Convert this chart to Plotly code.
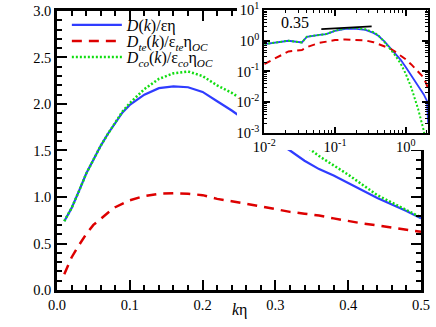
import numpy as np
import plotly.graph_objects as go

# main panel: D(k) curves vs k*eta (linear axes)
k_main = [0.01, 0.02, 0.03, 0.04, 0.05, 0.06, 0.07, 0.08, 0.09, 0.10,
          0.12, 0.14, 0.16, 0.18, 0.20, 0.22, 0.24, 0.26, 0.28, 0.30,
          0.32, 0.34, 0.36, 0.38, 0.40, 0.42, 0.44, 0.46, 0.48, 0.50]
d_main = [0.74, 0.88, 1.06, 1.25, 1.40, 1.55, 1.68, 1.80, 1.91, 1.99,
          2.10, 2.17, 2.19, 2.18, 2.13, 2.03, 1.93, 1.82, 1.71, 1.60,
          1.50, 1.39, 1.30, 1.23, 1.15, 1.07, 0.99, 0.92, 0.85, 0.77]
dte_main = [0.17, 0.35, 0.48, 0.60, 0.70, 0.77, 0.83, 0.89, 0.93, 0.965,
            1.01, 1.035, 1.04, 1.035, 1.02, 0.98, 0.955, 0.93, 0.90, 0.87,
            0.84, 0.82, 0.80, 0.77, 0.74, 0.715, 0.695, 0.67, 0.65, 0.625]
dco_main = [0.74, 0.88, 1.06, 1.25, 1.40, 1.55, 1.68, 1.80, 1.92, 2.01,
            2.16, 2.27, 2.33, 2.35, 2.30, 2.20, 2.12, 2.02, 1.91, 1.79,
            1.67, 1.55, 1.44, 1.34, 1.24, 1.13, 1.02, 0.94, 0.86, 0.78]

# inset: same quantities on log-log axes, out to k*eta ~ 2
k_in = [0.01, 0.022, 0.034, 0.04, 0.06, 0.075, 0.1, 0.14, 0.2, 0.27, 0.35,
        0.41, 0.5, 0.6, 0.7, 0.85, 1.0, 1.2, 1.5, 1.8, 2.0, 2.08]
d_in = [0.78, 1.0, 0.88, 1.35, 1.55, 1.65, 2.1, 2.45, 2.45, 2.25, 1.8,
        1.45, 0.95, 0.6, 0.40, 0.24, 0.14, 0.075, 0.036, 0.018, 0.011, 0.002]
dte_in = [0.175, 0.45, 0.5, 0.62, 0.85, 0.95, 1.05, 1.1, 1.08, 1.02, 0.9,
          0.78, 0.68, 0.56, 0.45, 0.33, 0.25, 0.17, 0.1, 0.063, 0.035, 0.025]
dco_in = [0.78, 1.0, 0.88, 1.35, 1.55, 1.65, 2.12, 2.55, 2.6, 2.35, 1.9,
          1.5, 0.92, 0.56, 0.35, 0.18, 0.085, 0.03, 0.006, 0.0012, 0.0004, 0.0002]

# power-law guide line and shaded band in the inset
k_slope = [0.064, 0.33]
y_slope = [2.4, 2.95]
band = [0.1, 0.2]
slope_label = "0.35"

names = ["<i>D</i>(<i>k</i>)/εη",
         "<i>D<sub>te</sub></i>(<i>k</i>)/ε<sub><i>te</i></sub>η<sub><i>OC</i></sub>",
         "<i>D<sub>co</sub></i>(<i>k</i>)/ε<sub><i>co</i></sub>η<sub><i>OC</i></sub>"]

inset_xvals = [0.01, 0.1, 1]
inset_xtext = ["10<sup>-2</sup>", "10<sup>-1</sup>", "10<sup>0</sup>"]
inset_yvals = [1e-3, 1e-2, 1e-1, 1, 10]
inset_ytext = ["10<sup>-3</sup>", "10<sup>-2</sup>", "10<sup>-1</sup>",
               "10<sup>0</sup>", "10<sup>1</sup>"]

blue = "#2f3cff"
red = "#dd0000"
green = "#11dd11"
font = "Liberation Serif, serif"

fig = go.Figure()
fig.add_trace(go.Scatter(x=k_main, y=d_main, mode="lines", name=names[0], legend="legend",
                         line=dict(color=blue, width=2.2)))
fig.add_trace(go.Scatter(x=k_main, y=dte_main, mode="lines", name=names[1], legend="legend2",
                         line=dict(color=red, width=2.5, dash="10px,7px")))
fig.add_trace(go.Scatter(x=k_main, y=dco_main, mode="lines", name=names[2], legend="legend3",
                         line=dict(color=green, width=2.5, dash="2px,2px")))

# empty subplot whose white background masks the main panel behind the inset
fig.add_trace(go.Scatter(x=[], y=[], xaxis="x2", yaxis="y2", showlegend=False))

fig.add_trace(go.Scatter(x=k_in, y=d_in, mode="lines", xaxis="x3", yaxis="y3",
                         showlegend=False, line=dict(color=blue, width=1.8)))
fig.add_trace(go.Scatter(x=k_in, y=dte_in, mode="lines", xaxis="x3", yaxis="y3",
                         showlegend=False, line=dict(color=red, width=2, dash="7px,5px")))
fig.add_trace(go.Scatter(x=k_in, y=dco_in, mode="lines", xaxis="x3", yaxis="y3",
                         showlegend=False, line=dict(color=green, width=2, dash="2px,2px")))
fig.add_trace(go.Scatter(x=k_slope, y=y_slope, mode="lines", xaxis="x3", yaxis="y3",
                         showlegend=False, line=dict(color="black", width=1.8)))

fig.add_shape(type="rect", xref="x3", yref="y3 domain",
              x0=np.log10(band[0]), x1=np.log10(band[1]), y0=0, y1=1,
              fillcolor="#d3d3d3", line_width=0, layer="below")

axis_common = dict(showline=True, linecolor="black", mirror="ticks", ticks="inside",
                   tickcolor="black", showgrid=False, zeroline=False, automargin=False,
                   ticklabeloverflow="allow",
                   tickfont=dict(family=font, size=14.5, color="black"))

minor_x = [m * 10.0 ** e for e in range(-2, 1) for m in range(2, 10)]
minor_y = [m * 10.0 ** e for e in range(-3, 1) for m in range(2, 10)]

leg = dict(xanchor="left", yanchor="middle", bgcolor="rgba(0,0,0,0)", itemwidth=50,
           font=dict(family=font, size=16, color="black"))

fig.update_layout(
    width=436, height=327,
    margin=dict(l=57, r=0, t=0, b=37),
    plot_bgcolor="white", paper_bgcolor="white",
    font=dict(family=font, size=15, color="black"),
    xaxis=dict(domain=[0, 0.9604], range=[0, 0.5], dtick=0.1, tickformat=".1f",
               linewidth=2.5, ticklen=10, tickwidth=2,
               minor=dict(ticks="inside", dtick=0.02, ticklen=5, tickwidth=1.5,
                          tickcolor="black"),
               **axis_common),
    yaxis=dict(domain=[0, 0.9621], range=[0, 3], dtick=0.5, tickformat=".1f",
               linewidth=2.5, ticklen=10, tickwidth=2,
               minor=dict(ticks="inside", dtick=0.1, ticklen=5, tickwidth=1.5,
                          tickcolor="black"),
               **axis_common),
    xaxis2=dict(domain=[0.4749, 1], anchor="y2", visible=False),
    yaxis2=dict(domain=[0.4828, 1], anchor="x2", visible=False),
    xaxis3=dict(type="log", domain=[0.547, 0.9797], range=[-2, 0.32], anchor="y3",
                tickvals=inset_xvals, ticktext=inset_xtext,
                linewidth=2, ticklen=6, tickwidth=1.5,
                minor=dict(ticks="inside", tickvals=minor_x, ticklen=3, tickwidth=1,
                           tickcolor="black"),
                **axis_common),
    yaxis3=dict(type="log", domain=[0.5414, 0.9655], range=[-3, 1], anchor="x3",
                tickvals=inset_yvals, ticktext=inset_ytext,
                linewidth=2, ticklen=6, tickwidth=1.5,
                minor=dict(ticks="inside", tickvals=minor_y, ticklen=3, tickwidth=1,
                           tickcolor="black"),
                **axis_common),
    legend=dict(x=0.026, y=(290 - 25) / 290, **leg),
    legend2=dict(x=0.026, y=(290 - 41) / 290, **leg),
    legend3=dict(x=0.026, y=(290 - 57) / 290, **leg),
    annotations=[
        dict(text="<i>k</i>η", x=0.25, xref="x", y=-0.069, yref="paper",
             xanchor="center", yanchor="middle",
             showarrow=False, font=dict(family=font, size=16)),
        dict(text=slope_label, x=0.628, xref="paper", y=0.9207, yref="paper",
             xanchor="center", yanchor="middle",
             showarrow=False, font=dict(family=font, size=16)),
    ],
)

# the page body has a default 8px margin; drop it so the figure sits at the window origin
fig.write_html("out.html", config={"displayModeBar": False},
               post_script="document.body.style.margin = '0';")
